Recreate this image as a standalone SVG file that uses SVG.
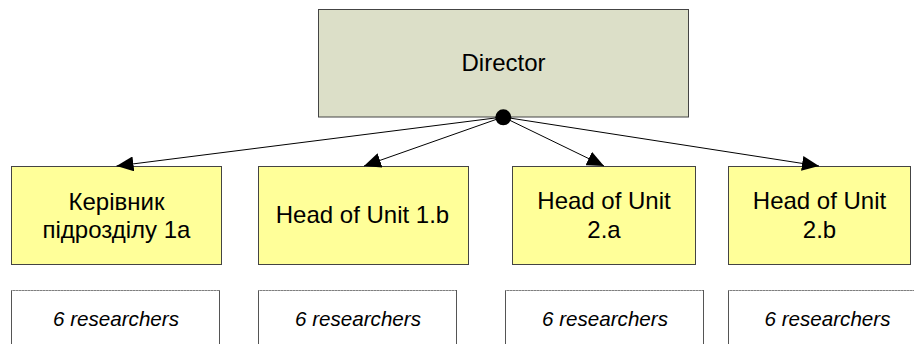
<svg xmlns="http://www.w3.org/2000/svg" width="914" height="344" viewBox="0 0 914 344">
  <style>
    .director { fill: #dcdfc8; stroke: #444; stroke-width: 1; }
    .head { fill: #ffff99; stroke: #444; stroke-width: 1; }
    .team { fill: #fff; stroke: #555; stroke-width: 1; }
    .team-top { stroke: #aaa; stroke-width: 1.2; stroke-dasharray: 2 1; }
    .label { font-family: "Liberation Sans", Arial, sans-serif; font-size: 24px; fill: #000; text-anchor: middle; }
    .note { font-family: "Liberation Sans", Arial, sans-serif; font-size: 20.6px; font-style: italic; fill: #000; text-anchor: middle; }
    .link { stroke: #000; stroke-width: 1; fill: none; marker-end: url(#arrow); }
  </style>
  <defs>
    <marker id="arrow" viewBox="0 0 17 15" refX="17" refY="7.5" markerWidth="17" markerHeight="15" markerUnits="userSpaceOnUse" orient="auto">
      <path d="M0,0 L17,7.5 L0,15 Z" fill="#000"/>
    </marker>
  </defs>

  <rect width="914" height="344" fill="#fff"/>

  <g id="director">
    <rect class="director" x="318.5" y="9.5" width="370" height="107.5"/>
    <text class="label" x="503.5" y="71">Director</text>
  </g>

  <g id="unit-1a">
    <rect class="head" x="11.5" y="166.5" width="210" height="98"/>
    <text class="label" x="116.5" y="210">Керівник</text>
    <text class="label" x="116.5" y="238">підрозділу 1а</text>
  </g>

  <g id="unit-1b">
    <rect class="head" x="258.5" y="166.5" width="210" height="98"/>
    <text class="label" x="362.5" y="222.5">Head of Unit 1.b</text>
  </g>

  <g id="unit-2a">
    <rect class="head" x="512.5" y="166.5" width="183" height="98"/>
    <text class="label" x="604" y="209">Head of Unit</text>
    <text class="label" x="604" y="238">2.a</text>
  </g>

  <g id="unit-2b">
    <rect class="head" x="728.5" y="166.5" width="182" height="98"/>
    <text class="label" x="819.5" y="209">Head of Unit</text>
    <text class="label" x="819.5" y="238">2.b</text>
  </g>

  <g id="team-1a">
    <rect class="team" x="11.5" y="290.5" width="208" height="70"/>
    <line class="team-top" x1="11.5" y1="290.5" x2="219.5" y2="290.5"/>
    <text class="note" x="116" y="326">6 researchers</text>
  </g>

  <g id="team-1b">
    <rect class="team" x="258.5" y="290.5" width="198" height="70"/>
    <line class="team-top" x1="258.5" y1="290.5" x2="456.5" y2="290.5"/>
    <text class="note" x="358" y="326">6 researchers</text>
  </g>

  <g id="team-2a">
    <rect class="team" x="505.5" y="290.5" width="198" height="70"/>
    <line class="team-top" x1="505.5" y1="290.5" x2="703.5" y2="290.5"/>
    <text class="note" x="605" y="326">6 researchers</text>
  </g>

  <g id="team-2b">
    <rect class="team" x="728.5" y="290.5" width="199" height="70"/>
    <line class="team-top" x1="728.5" y1="290.5" x2="927.5" y2="290.5"/>
    <text class="note" x="827.5" y="326">6 researchers</text>
  </g>

  <g id="connectors">
    <line class="link" x1="503" y1="117" x2="116.5" y2="166"/>
    <line class="link" x1="503" y1="117" x2="364" y2="166"/>
    <line class="link" x1="503" y1="117" x2="604" y2="166"/>
    <line class="link" x1="503" y1="117" x2="819" y2="166"/>
    <circle cx="503.3" cy="117.3" r="8" fill="#000"/>
  </g>
</svg>
